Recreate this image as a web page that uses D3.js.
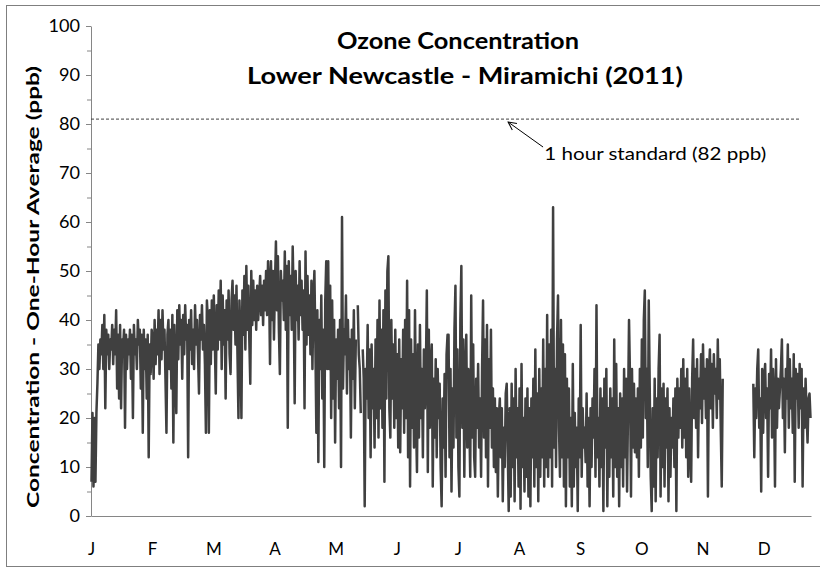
<!DOCTYPE html>
<html>
<head>
<meta charset="utf-8">
<script src="https://cdn.jsdelivr.net/npm/d3@7"></script>
<style>
  body { margin: 0; background: #fff; }
  svg { display: block; font-family: Lato, "Open Sans", sans-serif; }
</style>
</head>
<body>
<svg id="chart" width="820" height="568"></svg>
<script>
// month letters on the category axis, one label every 744 hours
const monthLetters = ["J", "F", "M", "A", "M", "J", "J", "A", "S", "O", "N", "D"];
const monthDays = [31, 28, 31, 30, 31, 30, 31, 31, 30, 31, 30, 31];
const labelStep = 744;

const jan = [7, 21, 6, 20, 7, 21, 27, 35, 30, 36, 33, 39, 30, 41, 22, 38, 33, 37, 30, 36,
  34, 39, 31, 38, 33, 42, 26, 37, 24, 39, 22, 36, 34, 38, 18, 37, 30, 36, 33, 38,
  28, 37, 20, 39, 33, 36, 30, 40, 35, 38, 26, 37, 17, 38, 30, 36, 24, 37, 12, 35, 29, 38];
const feb = [36, 28, 40, 31, 38, 33, 42, 29, 40, 32, 42, 34, 38, 28, 17, 37, 40, 30, 38, 26,
  41, 15, 39, 30, 21, 42, 32, 43, 35, 40, 28, 41, 33, 43, 36, 39, 12, 40, 34, 42,
  31, 38, 30, 43, 35, 40, 33, 25, 41, 36, 43, 34, 39, 31, 17, 44];
const mar = [40, 17, 42, 31, 44, 34, 45, 36, 25, 43, 34, 46, 36, 48, 30, 45, 35, 42, 24, 44,
  36, 46, 33, 29, 44, 48, 38, 45, 35, 47, 33, 20, 44, 37, 20, 46, 37, 49, 34, 51,
  38, 47, 36, 27, 50, 39, 48, 40, 46, 38, 47, 40, 45, 49, 41, 47, 39, 48, 42, 50, 41, 52];
const apr = [48, 31, 52, 40, 50, 36, 47, 56, 42, 53, 38, 29, 50, 44, 48, 40, 54, 38, 51, 18,
  52, 41, 49, 38, 55, 44, 23, 50, 40, 47, 36, 52, 41, 48, 38, 46, 22, 54, 35, 49,
  37, 45, 33, 48, 30, 44, 50, 35, 17, 42, 11, 40, 30, 45, 24, 38, 10, 44, 52, 30];
const may = [52, 30, 47, 20, 44, 24, 40, 15, 36, 28, 38, 22, 40, 10, 61, 26, 38, 33, 45, 25,
  40, 30, 36, 16, 38, 28, 42, 22, 36, null, 43, 33, 30, 21, null, 34, 28, 2, 30, 24,
  39, 20, 34, 12, 35, 22, 30, 14, 36, 20, 40, 16, 44, 22, 38, 18, 42, 7, 46, 24, 50, 53];
const jun = [22, 16, 40, 24, 35, 18, 38, 20, 33, 14, 36, 13, 32, 22, 38, 17, 40, 20, 48, 12,
  42, 6, 36, 18, 33, 14, 42, 20, 9, 35, 16, 39, 20, 30, 12, 34, 22, 29, 46, 9,
  38, 18, 30, 35, 6, 28, 16, 32, 12, 30, 20, 27, 10, 2, 24, 14, 29, 8, 33, 37];
const jul = [37, 12, 30, 5, 26, 14, 38, 47, 16, 34, 10, 4, 40, 51, 18, 36, 8, 28, 37, 14,
  30, 20, 8, 45, 16, 35, 12, 8, 28, 18, 31, 14, 24, 8, 30, 44, 16, 36, 12, 39,
  6, 32, 18, 38, 14, 26, 10, 24, 9, 22, 4, 20, 24, 12, 22, 3, 18, 10, 25, 27, 14, 1];
const aug = [22, 4, 27, 10, 24, 3, 30, 12, 22, 6, 26, 1.5, 31, 10, 20, 5, 24, 8, 26, 4,
  22, 2, 24, 12, 28, 6, 34, 10, 25, 3, 30, 8, 26, 12, 36, 6, 30, 10, 41, 8,
  35, 12, 38, 6, 63, 14, 30, 10, 36, 45, 18, 8, 40, 12, 35, 6, 33, 2, 28, 12, 26, 6];
const sep = [20, 2, 31, 6, 21, 10, 18, 1, 24, 12, 39, 8, 22, 14, 18, 11, 25, 6, 20, 2,
  22, 10, 24, 16, 30, 8, 43, 12, 20, 6, 26, 10, 24, 1, 28, 14, 30, 2, 22, 8,
  26, 12, 24, 4, 36, 10, 31, 8, 22, 2, 25, 10, 24, 6, 30, 12, 28, 5, 22, 40];
const oct = [28, 4, 30, 14, 27, 13, 24, 12, 26, 8, 30, 14, 36, 16, 40, 46, 20, 30, 10, 44,
  26, 8, 1, 22, 6, 28, 3, 24, 12, 30, 37, 4, 26, 10, 27, 6, 24, 14, 26, 3,
  22, 8, 20, 14, 24, 10, 26, 1, 28, 16, 26, 18, 30, 14, 32, 16, 28, 12, 30, 8, 26, 14];
const nov = [7, 28, 36, 20, 30, 18, 32, 12, 28, 22, 33, 19, 35, 24, 30, 20, 32, 4, 29, 34,
  22, 31, 18, 33, 25, 30, 20, 36, 24, 32, 18, 6, 28, null, null, null, null, null, null, null,
  null, null, null, null, null, null, null, null, null, null, null, null, null, null, null, null,
  null, null, null, null];
const dec = [null, null, null, 27, 12, 26, 20, 30, 34, 18, 24, 5, 30, 17, 28, 31, 20, 26, 8, 29,
  22, 34, 16, 30, 24, 6, 32, 18, 28, 22, 26, 30, 36, 20, 28, 13, 30, 24, 35, 18,
  32, 22, 28, 17, 33, 7, 30, 24, 29, 18, 31, 22, 30, 6, 26, 18, 28, 21, 15, 24, 25, 20];
const months = [jan, feb, mar, apr, may, jun, jul, aug, sep, oct, nov, dec];

// 1 hour standard line and its note (hour of year, ppb)
const standardValue = 81;
const standardEndHour = 8630;
const noteText = "1 hour standard (82 ppb)";
const noteArrow = { fromHour: 5500, fromValue: 75.3, toHour: 5075, toValue: 80.4 };
const noteAt = { hour: 5515, value: 72.6 };

const titleLines = ["Ozone Concentration", "Lower Newcastle - Miramichi (2011)"];
const yTitle = "Concentration - One-Hour Average (ppb)";

const svg = d3.select("#chart");
const grey = "#868686";

const monthHours = monthDays.map((d) => d * 24);
const monthStart = d3.cumsum([0, ...monthHours]);
const totalHours = d3.sum(monthHours);

const x = d3.scaleLinear().domain([0, totalHours]).range([91, 811]);
const y = d3.scaleLinear().domain([0, 100]).range([516, 26]);

// chart border (right edge runs off the picture)
svg.append("rect")
  .attr("x", 6.5).attr("y", 5.5)
  .attr("width", 840).attr("height", 561)
  .attr("fill", "#fff")
  .attr("stroke", "#7f7f7f");

// y axis with minor ticks
svg.append("g")
  .attr("class", "y-axis")
  .attr("transform", `translate(${x(0)},0)`)
  .call(d3.axisLeft(y).tickValues(d3.range(0, 101, 10)).tickSize(5).tickSizeOuter(0).tickPadding(6));
svg.append("g")
  .attr("transform", `translate(${x(0)},0)`)
  .call(d3.axisLeft(y).tickValues(d3.range(5, 100, 10)).tickSize(4).tickFormat(""))
  .call((g) => g.select(".domain").remove());

// x axis: category labels every 744 hours
svg.append("g")
  .attr("class", "x-axis")
  .attr("transform", `translate(0,${y(0)})`)
  .call(d3.axisBottom(x)
    .tickValues(d3.range(0, 12).map((i) => i * labelStep))
    .tickFormat((d, i) => monthLetters[i])
    .tickSize(0).tickSizeOuter(0).tickPadding(27));

svg.selectAll(".tick line, .domain").attr("stroke", grey);
svg.selectAll(".tick text")
  .attr("fill", "#000")
  .style("font-size", "17px")
  .style("font-family", "Lato, 'Open Sans', sans-serif");
// the y labels in the picture are set a little wider
svg.selectAll(".y-axis .tick text")
  .attr("textLength", (d) => String(d).length * 10.5)
  .attr("lengthAdjust", "spacingAndGlyphs");

// data line
const points = months.flatMap((arr, m) =>
  arr.map((v, i) => ({
    hour: monthStart[m] + ((i + 0.5) / arr.length) * monthHours[m],
    value: v,
  })),
);

const line = d3.line()
  .defined((d) => d.value != null)
  .x((d) => x(d.hour))
  .y((d) => y(d.value));

svg.append("path")
  .datum(points)
  .attr("d", line)
  .attr("fill", "none")
  .attr("stroke", "#404040")
  .attr("stroke-width", 2.5)
  .attr("stroke-linejoin", "round");

// standard line
svg.append("line")
  .attr("x1", x(0)).attr("x2", x(standardEndHour))
  .attr("y1", y(standardValue)).attr("y2", y(standardValue))
  .attr("stroke", "#404040")
  .attr("stroke-width", 1)
  .attr("stroke-dasharray", "3,2");

// arrow note
svg.append("defs").append("marker")
  .attr("id", "head")
  .attr("viewBox", "0 0 10 10")
  .attr("refX", 9).attr("refY", 5)
  .attr("markerWidth", 10).attr("markerHeight", 10)
  .attr("markerUnits", "userSpaceOnUse")
  .attr("orient", "auto")
  .append("path")
  .attr("d", "M1,1L9,5L1,9")
  .attr("fill", "none")
  .attr("stroke", "#000")
  .attr("stroke-width", 1);

svg.append("line")
  .attr("x1", x(noteArrow.fromHour)).attr("y1", y(noteArrow.fromValue))
  .attr("x2", x(noteArrow.toHour)).attr("y2", y(noteArrow.toValue))
  .attr("stroke", "#000")
  .attr("stroke-width", 1)
  .attr("marker-end", "url(#head)");

svg.append("text")
  .attr("x", x(noteAt.hour)).attr("y", y(noteAt.value))
  .attr("textLength", 222).attr("lengthAdjust", "spacingAndGlyphs")
  .style("font-size", "17px")
  .text(noteText);

// titles
svg.selectAll(".title")
  .data(titleLines)
  .join("text")
  .attr("class", "title")
  .attr("x", (d, i) => [458, 465][i])
  .attr("y", (d, i) => [49, 84][i])
  .attr("text-anchor", "middle")
  .attr("textLength", (d, i) => [242, 436][i])
  .attr("lengthAdjust", "spacingAndGlyphs")
  .style("font-size", "22px")
  .style("font-weight", "bold")
  .text((d) => d);

svg.append("text")
  .attr("transform", "translate(39,287) rotate(-90)")
  .attr("text-anchor", "middle")
  .attr("textLength", 442)
  .attr("lengthAdjust", "spacingAndGlyphs")
  .style("font-size", "17px")
  .style("font-weight", "bold")
  .text(yTitle);
</script>
</body>
</html>
